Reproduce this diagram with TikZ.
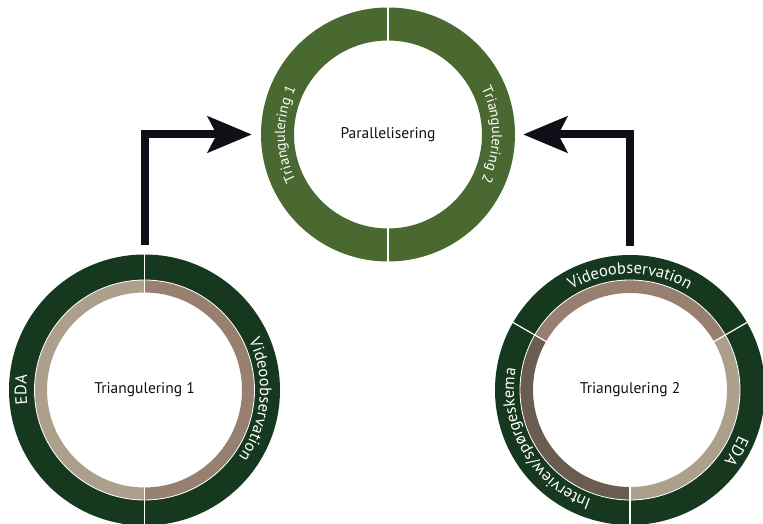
\documentclass[tikz,border=0pt]{standalone}
\usepackage{fontspec}
\setmainfont{PT Sans}
\usetikzlibrary{positioning,arrows.meta,calc,decorations.text}
\definecolor{topgreen}{RGB}{74,105,48}
\definecolor{darkgreen}{RGB}{22,56,30}
\definecolor{lighttan}{RGB}{172,160,141}
\definecolor{midbrown}{RGB}{151,128,111}
\definecolor{darkbrown}{RGB}{106,93,80}
\definecolor{arrowblack}{RGB}{16,15,24}
\newcommand{\ringfont}{\fontsize{16.5}{19}\selectfont}
\newcommand{\topfont}{\fontsize{14.5}{17}\selectfont}
\newcommand{\midfont}{\fontsize{15.5}{18}\selectfont}
% center, from, to, inner radius, outer radius, colour
\newcommand{\ringpart}[6]{%
  \fill[#6] ($(#1)+(#2:#5)$) arc[start angle=#2,end angle=#3,radius=#5]
    -- ($(#1)+(#3:#4)$) arc[start angle=#3,end angle=#2,radius=#4] -- cycle;}
% [font] center, baseline radius, mid angle, text
\newcommand{\ringlabel}[5][\ringfont]{%
  \path[decorate,decoration={text along path,text align=center,text color=white,
    text={|#1|#5}}]
    ($(#2)+(#4+70:#3)$) arc[start angle=#4+70,end angle=#4-70,radius=#3];}

\begin{document}
\begin{tikzpicture}[x=1pt,y=1pt,
      ring/.style={circle,inner sep=0pt,font=\midfont,text=arrowblack},
      divider/.style={white,line width=1.2pt},
      flow/.style={draw=arrowblack,line width=8pt,-{Stealth[length=44pt,width=36pt,inset=9pt]}},
    ]
    \useasboundingbox (0,0) rectangle (763,524);

    \node[ring,minimum size=254pt] (par) at (388,389.5) {Parallelisering};
    \node[ring,minimum size=271pt] (tri1) at (144.5,134) {Triangulering 1};
    \node[ring,minimum size=270pt] (tri2) at (630,134) {Triangulering 2};

    % top ring
    \ringpart{par.center}{90}{270}{94}{127}{topgreen}
    \ringpart{par.center}{-90}{90}{94}{127}{topgreen}
    \foreach \a in {90,270}
      \draw[divider] ($(par.center)+(\a:93)$) -- ($(par.center)+(\a:128)$);
    \ringlabel[\topfont]{par.center}{103}{180}{Triangulering 1}
    \ringlabel[\topfont]{par.center}{104}{0}{Triangulering 2}

    % left ring
    \ringpart{tri1.center}{-90}{270}{110}{135.5}{darkgreen}
    \ringpart{tri1.center}{90}{270}{97.5}{110}{lighttan}
    \ringpart{tri1.center}{-90}{90}{97.5}{110}{midbrown}
    \draw[white,line width=0.8pt] (tri1.center) circle[radius=110];
    \foreach \a in {90,270}
      \draw[divider] ($(tri1.center)+(\a:96.5)$) -- ($(tri1.center)+(\a:136.5)$);
    \ringlabel{tri1.center}{118}{180}{EDA}
    \ringlabel{tri1.center}{115.5}{-5}{Videoobservation}

    % right ring
    \ringpart{tri2.center}{-90}{270}{110}{135}{darkgreen}
    \ringpart{tri2.center}{30}{150}{97}{110}{midbrown}
    \ringpart{tri2.center}{-90}{30}{97}{110}{lighttan}
    \ringpart{tri2.center}{150}{270}{97}{110}{darkbrown}
    \draw[white,line width=0.8pt] (tri2.center) circle[radius=110];
    \foreach \a in {30,150,270}
      \draw[divider] ($(tri2.center)+(\a:96)$) -- ($(tri2.center)+(\a:136)$);
    \ringlabel{tri2.center}{116}{90}{Videoobservation}
    \ringlabel{tri2.center}{118}{-30}{EDA}
    \ringlabel{tri2.center}{116}{210}{Interview/spørgeskema}

    \draw[flow,shorten <=9pt,shorten >=9pt] (tri1.north) |- (par.west);
    \draw[flow,shorten <=9pt,shorten >=8pt] (tri2.north) |- (par.east);

\end{tikzpicture}
\end{document}
